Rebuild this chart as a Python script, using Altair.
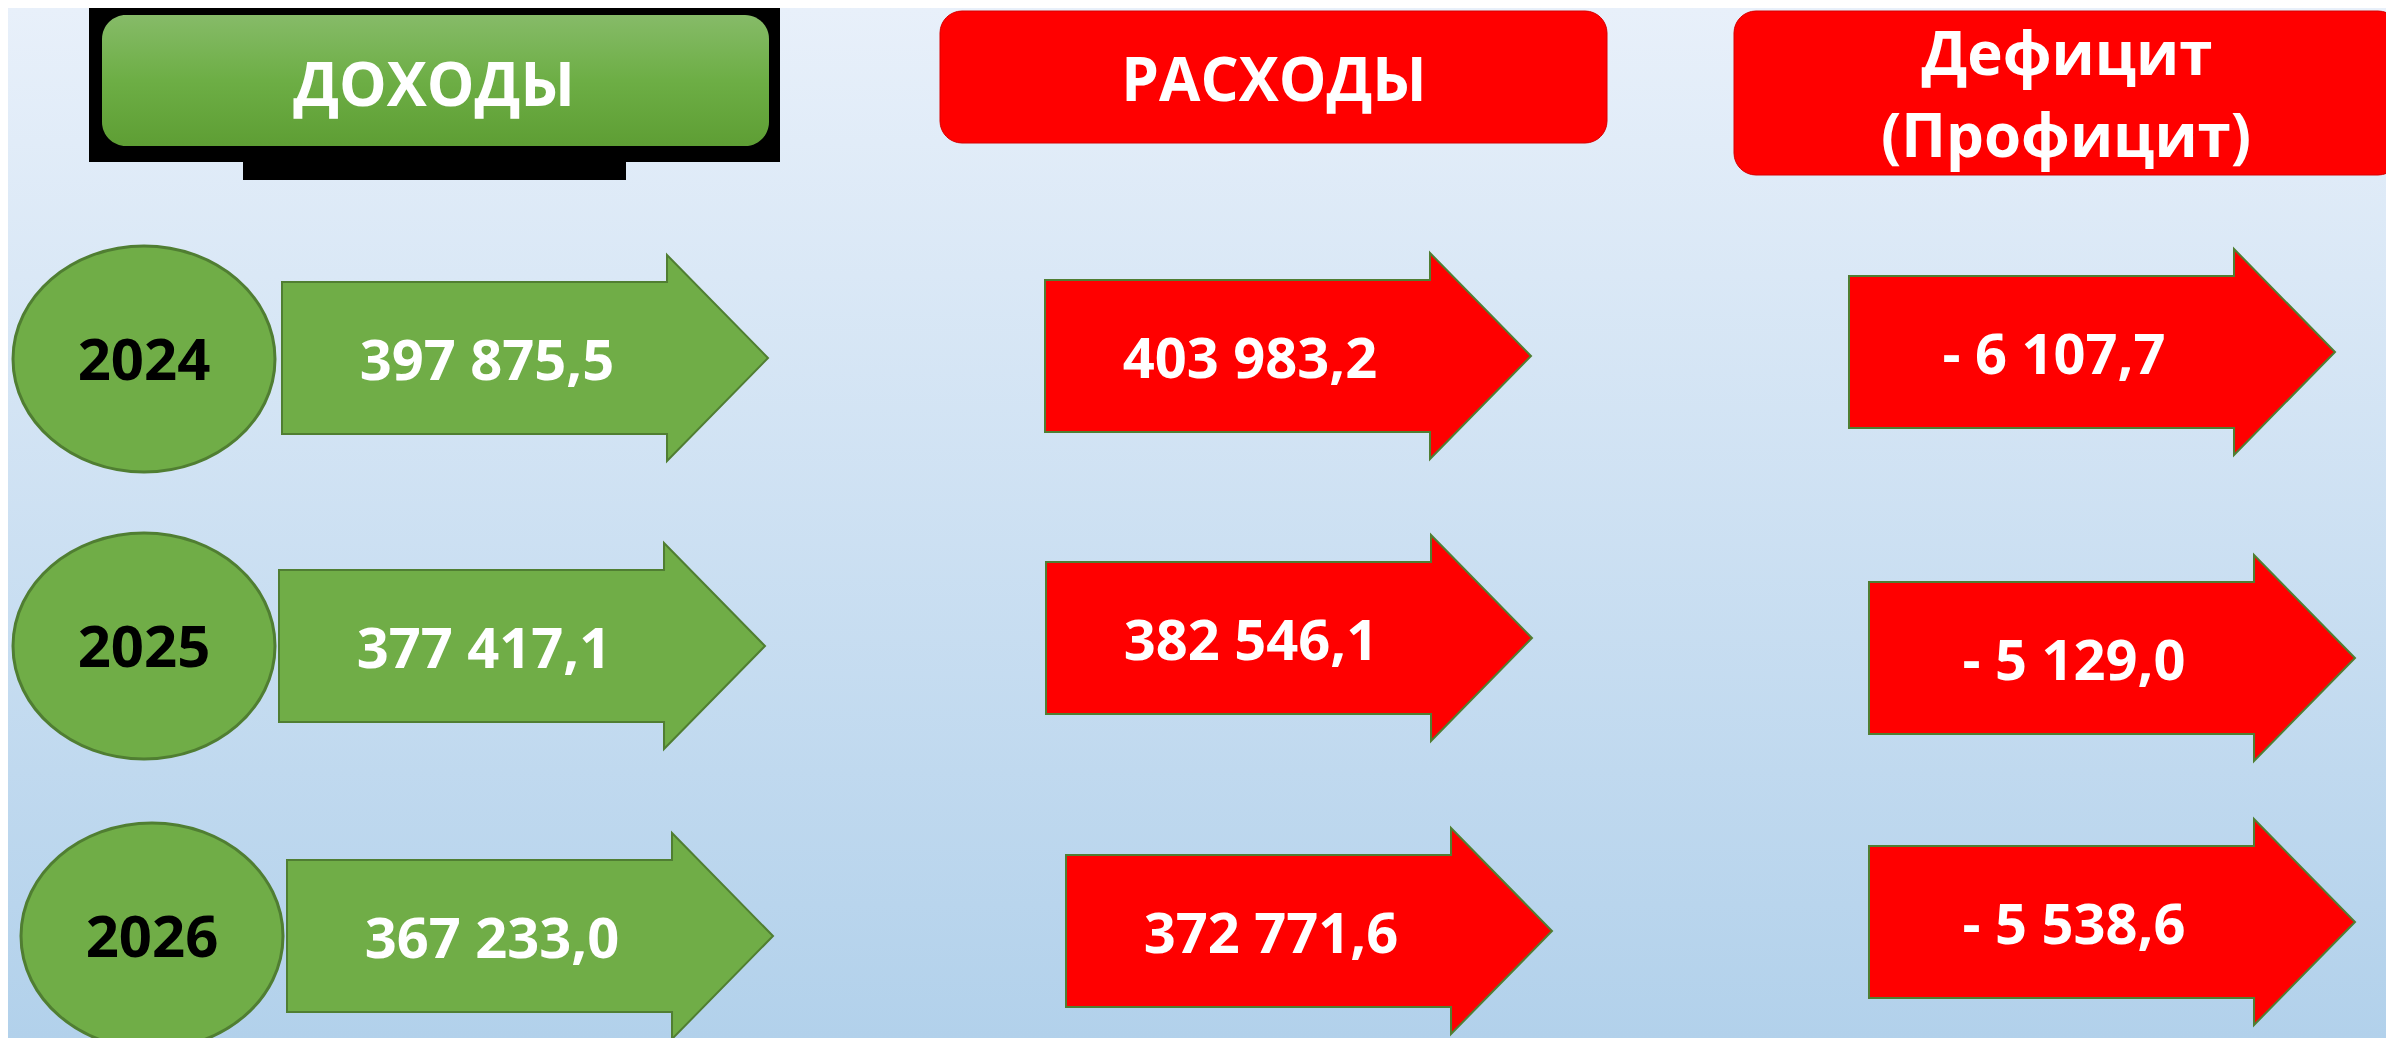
import altair as alt
import pandas as pd

# ---------------- data ----------------
years = ["2024", "2025", "2026"]
income = [397875.5, 377417.1, 367233.0]
expenses = [403983.2, 382546.1, 372771.6]
balance = [-6107.7, -5129.0, -5538.6]
header_income = "ДОХОДЫ"
header_expenses = "РАСХОДЫ"
header_balance = ["Дефицит", "(Профицит)"]


def fmt(v):
    s = f"{abs(v):,.1f}".replace(",", " ").replace(".", ",")
    return ("- " + s) if v < 0 else s


# ---------------- layout (page pixels) ----------------
W, H = 2378, 1030
FONT = "Open Sans"
GREEN = "#70AD47"
GREEN_EDGE = "#507E32"
RED = "#FF0000"

ellipse_cx = [144, 144, 152]
ellipse_cy = [359, 646, 936]
arrow_left = {"inc": [282, 279, 287], "exp": [1045, 1046, 1066], "bal": [1849, 1869, 1869]}
arrow_cy = {"inc": [358, 646, 936], "exp": [356, 638, 931], "bal": [352, 658, 922]}
ARROW_LEN = 486
ELLIPSE_W = 262

# arrow outline in unit box (-1..1)
ARROW_PATH = ("M -1 -0.3128 L 0.5844 -0.3128 L 0.5844 -0.4239 L 1 0 "
              "L 0.5844 0.4239 L 0.5844 0.3128 L -1 0.3128 Z")
ELLIPSE_PATH = "M -1 0 A 1 0.8626 0 1 1 1 0 A 1 0.8626 0 1 1 -1 0 Z"

xs = alt.Scale(domain=[8, 8 + W], nice=False, zero=False)
ys = alt.Scale(domain=[8, 8 + H], reverse=True, nice=False, zero=False)


def X(f):
    return alt.X(f, type="quantitative", scale=xs, axis=None)


def Y(f):
    return alt.Y(f, type="quantitative", scale=ys, axis=None)


# background
bg = alt.Chart(pd.DataFrame({"a": [0]})).mark_rect(
    fill=alt.LinearGradient(
        gradient="linear",
        stops=[alt.GradientStop(color="#E8F0FA", offset=0),
               alt.GradientStop(color="#B2D1EB", offset=1)],
        x1=0, x2=0, y1=0, y2=1),
).encode(x=alt.value(0), x2=alt.value(W), y=alt.value(0), y2=alt.value(H))

# header boxes
black_df = pd.DataFrame({"x0": [89, 243], "x1": [780, 626], "y0": [7, 160], "y1": [162, 180]})
black = alt.Chart(black_df).mark_rect(color="black").encode(
    x=X("x0"), x2="x1", y=Y("y0"), y2="y1")

green_head_df = pd.DataFrame({"x0": [102], "x1": [769], "y0": [15], "y1": [146]})
green_head = alt.Chart(green_head_df).mark_rect(
    cornerRadius=24,
    fill=alt.LinearGradient(
        gradient="linear",
        stops=[alt.GradientStop(color="#86BB68", offset=0),
               alt.GradientStop(color="#6DAE45", offset=0.5),
               alt.GradientStop(color="#5E9E34", offset=1)],
        x1=0, x2=0, y1=0, y2=1),
).encode(x=X("x0"), x2="x1", y=Y("y0"), y2="y1")

red_head_df = pd.DataFrame({"x0": [940, 1734], "x1": [1607, 2400], "y0": [11, 11], "y1": [143, 175]})
red_head = alt.Chart(red_head_df).mark_rect(
    cornerRadius=22, fill=RED, stroke="#D80000", strokeWidth=1
).encode(x=X("x0"), x2="x1", y=Y("y0"), y2="y1")

head_text_df = pd.DataFrame({
    "t": [header_income, header_expenses] + header_balance,
    "x": [434, 1274, 2067, 2066],
    "y": [106, 101, 75, 157],
})
head_text = alt.Chart(head_text_df).mark_text(
    font=FONT, fontWeight="bold", fontSize=60, color="white",
    align="center", baseline="alphabetic"
).encode(x=X("x"), y=Y("y"), text="t:N")

# ellipses with years
ell_df = pd.DataFrame({"year": years, "cx": ellipse_cx, "cy": ellipse_cy})
ell_df["ty"] = ell_df["cy"] + 21
ellipses = alt.Chart(ell_df).mark_point(
    shape=ELLIPSE_PATH, size=ELLIPSE_W ** 2, filled=True, fill=GREEN,
    stroke=GREEN_EDGE, strokeWidth=3, opacity=1
).encode(x=X("cx"), y=Y("cy"))
year_text = alt.Chart(ell_df).mark_text(
    font=FONT, fontWeight="bold", fontSize=58, color="black",
    align="center", baseline="alphabetic"
).encode(x=X("cx"), y=Y("ty"), text="year:N")

# arrows
rows = []
for key, vals, fill in [("inc", income, GREEN), ("exp", expenses, RED), ("bal", balance, RED)]:
    for i, v in enumerate(vals):
        left = arrow_left[key][i]
        cy = arrow_cy[key][i]
        rows.append({
            "kind": key, "year": years[i], "label": fmt(v), "fill": fill,
            "cx": left + ARROW_LEN / 2, "cy": cy,
            "tx": left + 205, "ty": cy + 22,
        })
arr_df = pd.DataFrame(rows)

arrows = alt.Chart(arr_df).mark_point(
    shape=ARROW_PATH, size=ARROW_LEN ** 2, filled=True,
    stroke=GREEN_EDGE, strokeWidth=2, opacity=1
).encode(x=X("cx"), y=Y("cy"), fill=alt.Fill("fill:N", scale=None))

arrow_text = alt.Chart(arr_df).mark_text(
    font=FONT, fontWeight="bold", fontSize=56, color="white",
    align="center", baseline="alphabetic"
).encode(x=X("tx"), y=Y("ty"), text="label:N")

chart = alt.layer(
    bg, black, green_head, red_head, head_text,
    ellipses, year_text, arrows, arrow_text
).properties(
    width=W, height=H, padding=0, autosize=alt.AutoSizeParams(type="none")
).configure_view(stroke=None)

chart.save("out.html", embed_options={"renderer": "svg", "actions": False})
